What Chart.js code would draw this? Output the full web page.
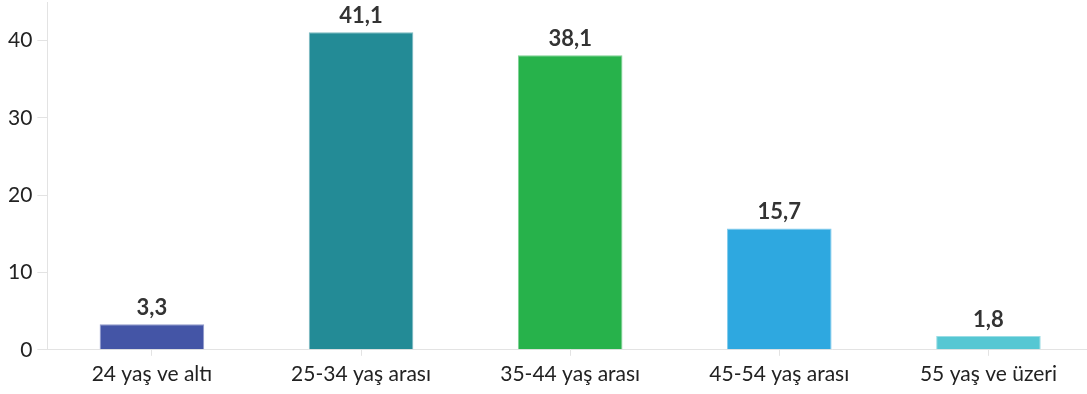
<!DOCTYPE html>
<html><head><meta charset="utf-8">
<script src="https://cdn.jsdelivr.net/npm/chart.js@4"></script>
<style>html,body{margin:0;padding:0;background:#fff;overflow:hidden;width:1087px;height:394px;}#wrap{width:1093px;height:394px;}</style>
</head><body><div id="wrap"><canvas id="c"></canvas></div>
<script>
const categories = ["24 yaş ve altı", "25-34 yaş arası", "35-44 yaş arası", "45-54 yaş arası", "55 yaş ve üzeri"];
const values = [3.3, 41.1, 38.1, 15.7, 1.8];
const barColors = ["#4455a6", "#238b96", "#27b24b", "#2ea8e0", "#56c7d3"];
const yTicks = [0, 10, 20, 30, 40];
const yMax = 45;

const FONT = "Lato, 'Open Sans', sans-serif";
const AXIS = '#e3e3e3';

const labelPlugin = {
  id: 'vlabels',
  afterDatasetsDraw(chart) {
    const ctx = chart.ctx;
    const meta = chart.getDatasetMeta(0);
    ctx.save();
    ctx.font = "bold 22px " + FONT;
    ctx.fillStyle = "#333333";
    ctx.textAlign = "center";
    ctx.textBaseline = "alphabetic";
    meta.data.forEach((bar, i) => {
      ctx.fillText(values[i].toFixed(1).replace('.', ','), bar.x, bar.y - 9);
    });
    ctx.restore();
  }
};

new Chart(document.getElementById('c'), {
  type: 'bar',
  data: {
    labels: categories,
    datasets: [{
      data: values,
      backgroundColor: barColors,
      borderColor: barColors.map(c => c + "99"),
      borderWidth: 1,
      barPercentage: 0.5,
      categoryPercentage: 1.0
    }]
  },
  options: {
    responsive: true,
    maintainAspectRatio: false,
    animation: false,
    layout: { padding: { top: 2, right: 0, left: 3, bottom: 1 } },
    plugins: { legend: { display: false }, tooltip: { enabled: false } },
    scales: {
      x: {
        grid: { offset: false, drawOnChartArea: false, drawTicks: true, tickLength: 6, color: AXIS },
        border: { color: AXIS, width: 1 },
        ticks: { color: '#222', font: { family: FONT, size: 21 }, padding: 6, maxRotation: 0 }
      },
      y: {
        min: 0, max: yMax,
        afterBuildTicks(axis) { axis.ticks = yTicks.map(v => ({ value: v })); },
        afterFit(scale) { scale.paddingTop = 0; },
        grid: { drawOnChartArea: false, drawTicks: true, tickLength: 10, color: AXIS },
        border: { color: AXIS, width: 1 },
        ticks: { color: '#222', font: { family: FONT, size: 21 }, padding: 5 }
      }
    }
  },
  plugins: [labelPlugin]
});
</script>
</body></html>
